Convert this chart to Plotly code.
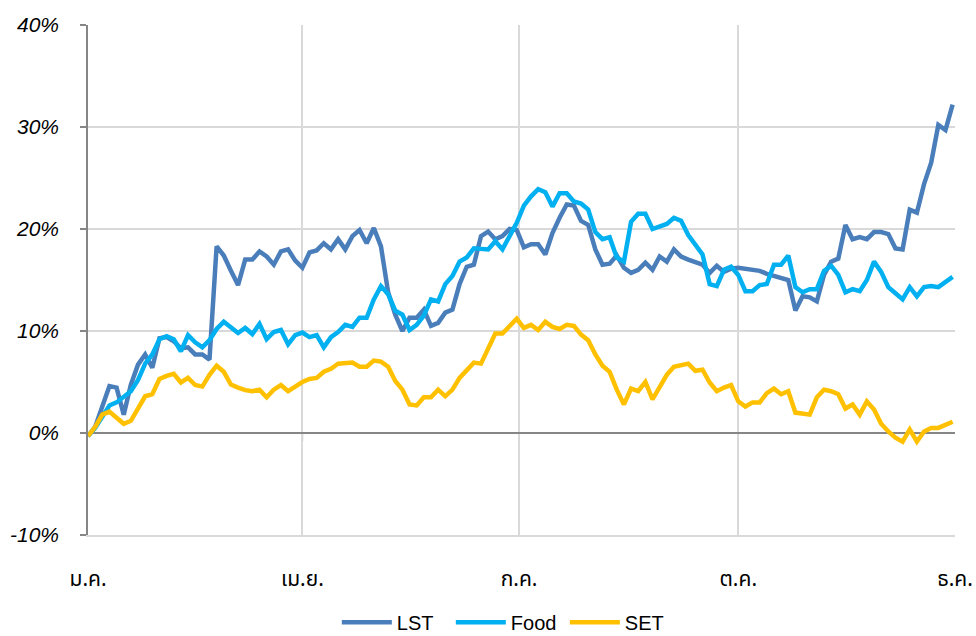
import pandas as pd
import plotly.graph_objects as go

# Sampling dates (every 3 calendar days through the year)
dates = pd.date_range("2017-01-01", periods=122, freq="3D")

lst = [
    -0.3, 0.6, 2.6, 4.6, 4.45, 1.8, 4.75, 6.7, 7.7, 6.4,
    9.3, 9.4, 9.0, 8.3, 8.4, 7.7, 7.7, 7.2, 18.3, 17.4,
    15.9, 14.5, 17.0, 17.0, 17.8, 17.3, 16.5, 17.8, 18.0, 16.9,
    16.2, 17.7, 17.9, 18.6, 18.0, 19.0, 18.0, 19.3, 19.9, 18.6,
    20.1, 18.3, 13.8, 11.6, 10.0, 11.3, 11.3, 12.1, 10.5, 10.8,
    11.8, 12.1, 14.6, 16.3, 16.5, 19.3, 19.75, 19.0, 19.3, 20.0,
    19.9, 18.2, 18.5, 18.5, 17.5, 19.6, 21.1, 22.4, 22.3, 20.8,
    20.4, 18.0, 16.5, 16.6, 17.4, 16.2, 15.7, 16.0, 16.7, 16.0,
    17.3, 16.8, 18.0, 17.3, 17.0, 16.8, 16.5, 15.7, 16.4, 15.8,
    16.1, 16.2, 16.1, 16.0, 15.9, 15.6, 15.4, 15.3, 15.0, 12.0,
    13.4, 13.3, 12.9, 15.5, 16.8, 17.1, 20.4, 19.0, 19.2, 19.0,
    19.7, 19.7, 19.5, 18.1, 18.0, 21.9, 21.6, 24.4, 26.5, 30.2,
    29.7, 32.2,
]

food = [
    -0.3, 0.5, 1.6, 2.7, 3.0, 3.6, 4.1, 5.2, 6.8, 7.7,
    9.2, 9.5, 9.2, 8.0, 9.6, 8.9, 8.4, 9.1, 10.2, 10.9,
    10.3, 9.8, 10.3, 9.7, 10.7, 9.2, 9.9, 10.1, 8.7, 9.6,
    9.85, 9.4, 9.6, 8.4, 9.4, 9.9, 10.6, 10.4, 11.3, 11.3,
    13.1, 14.4, 13.6, 12.0, 11.6, 10.1, 10.6, 11.5, 13.1, 12.9,
    14.6, 15.4, 16.8, 17.2, 18.1, 18.0, 18.0, 18.8, 18.0, 19.3,
    20.6, 22.3, 23.2, 23.9, 23.6, 22.2, 23.5, 23.5, 22.7, 22.5,
    21.9, 19.7, 19.0, 19.2, 17.2, 16.8, 20.7, 21.5, 21.5, 20.0,
    20.2, 20.5, 21.1, 20.8, 19.4, 18.5, 17.5, 14.6, 14.4, 16.0,
    16.3, 15.5, 13.9, 13.9, 14.5, 14.6, 16.5, 16.5, 17.4, 14.3,
    13.8, 14.1, 14.1, 15.9, 16.4, 15.5, 13.8, 14.1, 13.9, 15.0,
    16.8, 15.8, 14.3, 13.7, 13.1, 14.3, 13.4, 14.3, 14.4, 14.3,
    14.75, 15.3,
]

set_idx = [
    -0.3, 0.6, 1.8, 2.1, 1.5, 0.9, 1.2, 2.3, 3.6, 3.8,
    5.3, 5.6, 5.8, 4.95, 5.4, 4.7, 4.55, 5.7, 6.6, 6.0,
    4.75, 4.45, 4.2, 4.1, 4.25, 3.5, 4.25, 4.7, 4.1, 4.55,
    5.0, 5.3, 5.4, 6.0, 6.3, 6.8, 6.9, 6.9, 6.5, 6.5,
    7.1, 7.0, 6.5, 5.1, 4.25, 2.8, 2.7, 3.5, 3.5, 4.25,
    3.6, 4.25, 5.4, 6.2, 6.9, 6.8, 8.2, 9.75, 9.75, 10.5,
    11.2, 10.3, 10.6, 10.1, 10.9, 10.4, 10.2, 10.6, 10.5, 9.65,
    9.1, 7.7, 6.6, 6.0, 4.25, 2.8, 4.35, 4.1, 5.0, 3.3,
    4.45, 5.7, 6.5, 6.7, 6.8, 6.1, 6.2, 4.95, 4.1, 4.45,
    4.7, 3.1, 2.6, 3.0, 3.0, 3.9, 4.35, 3.8, 4.1, 2.0,
    1.9, 1.8, 3.5, 4.25, 4.1, 3.8, 2.4, 2.8, 1.8, 3.1,
    2.3, 0.9, 0.15, -0.45, -0.85, 0.35, -0.85, 0.15, 0.5, 0.5,
    0.8, 1.1,
]

series_names = ["LST", "Food", "SET"]
series_colors = ["#4A7EBB", "#00B0F0", "#FFC000"]

tick_dates = ["2017-01-01", "2017-04-01", "2017-07-01", "2017-10-01", "2017-12-31"]
tick_labels = ["ม.ค.", "เม.ย.", "ก.ค.", "ต.ค.", "ธ.ค."]
y_ticks = [-10, 0, 10, 20, 30, 40]
y_labels = ["-10%", "0%", "10%", "20%", "30%", "40%"]

AXIS = "#868686"
GRID = "#D9D9D9"

fig = go.Figure()
for name, vals, col in zip(series_names, [lst, food, set_idx], series_colors):
    fig.add_trace(go.Scatter(
        x=dates, y=vals, name=name, mode="lines",
        line=dict(color=col, width=4.5),
        cliponaxis=False,
    ))

# small tick marks hanging below the 0% axis line
for d in tick_dates[1:-1]:
    fig.add_shape(type="line", xref="x", yref="y", x0=d, x1=d, y0=0, y1=-0.8,
                  line=dict(color=AXIS, width=1.5), layer="below")

fig.update_layout(
    width=976, height=636,
    margin=dict(l=88, r=21, t=25, b=101, autoexpand=False),
    paper_bgcolor="white", plot_bgcolor="white",
    font=dict(family="Liberation Sans, Arial, sans-serif", color="black"),
    showlegend=True,
    legend=dict(
        orientation="h", x=0.287, xanchor="left", y=-0.171, yanchor="middle",
        font=dict(size=20, family="Liberation Sans, Arial, sans-serif"),
        itemwidth=50, tracegroupgap=0,
        entrywidth=49, entrywidthmode="pixels",
        bgcolor="rgba(0,0,0,0)",
    ),
)

fig.update_xaxes(
    type="date",
    range=["2017-01-01", "2017-12-31"],
    tickmode="array", tickvals=tick_dates, ticktext=tick_labels,
    showgrid=True, gridcolor=GRID, gridwidth=1.5,
    showline=True, linecolor=GRID, linewidth=1.5,
    ticks="", ticklabelstandoff=24, automargin=False,
    tickfont=dict(size=21, family="Noto Sans Thai, Noto Sans, Tahoma, sans-serif", color="black"),
    zeroline=False,
)

fig.update_yaxes(
    range=[-10, 40],
    tickmode="array", tickvals=y_ticks, ticktext=y_labels,
    showgrid=True, gridcolor=GRID, gridwidth=1.5,
    showline=True, linecolor=AXIS, linewidth=1.5,
    ticks="outside", ticklen=6, tickcolor=AXIS, tickwidth=1.5,
    ticklabelstandoff=17, automargin=False,
    zeroline=True, zerolinecolor=AXIS, zerolinewidth=1.5,
    tickfont=dict(size=21, style="italic", family="Liberation Sans, Arial, sans-serif", color="black"),
)

fig.write_html(
    "out.html",
    config={"displayModeBar": False},
    post_script="document.body.style.margin='0px';document.body.style.overflow='hidden';",
)
